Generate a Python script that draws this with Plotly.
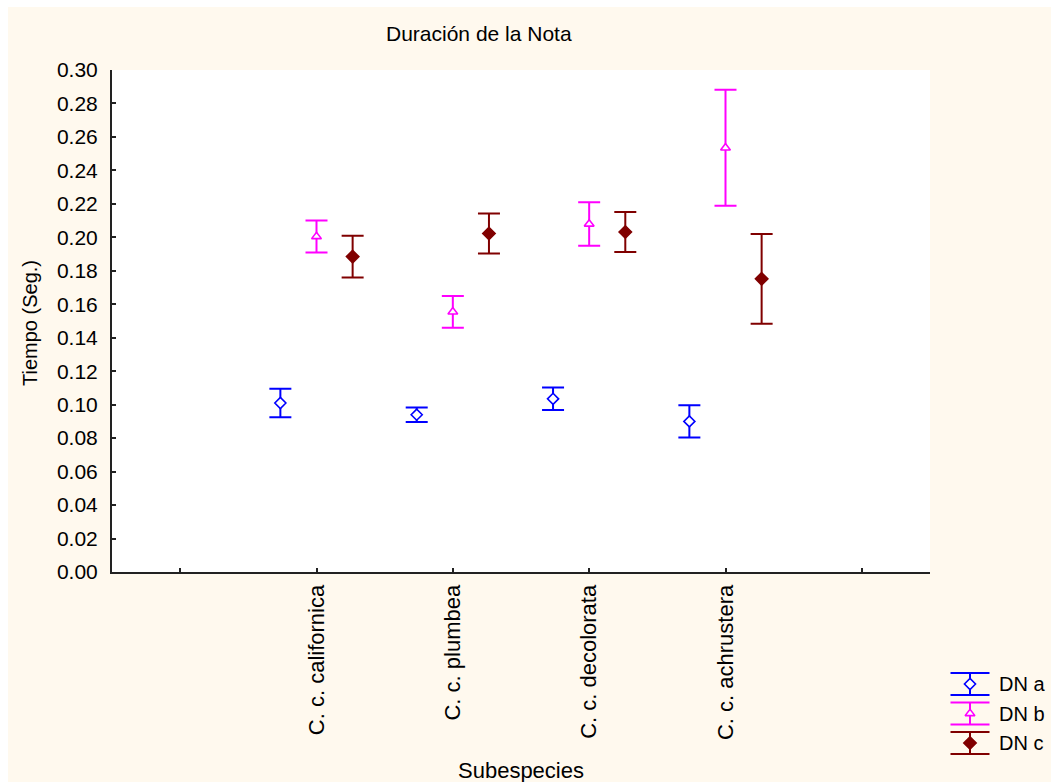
import numpy as np
import plotly.graph_objects as go

# Note duration per subspecies: mean and half-width of the interval (seconds)
subspecies = ["C. c. californica", "C. c. plumbea", "C. c. decolorata", "C. c. achrustera"]
series_names = ["DN a", "DN b", "DN c"]
dn_a_mean = [0.101, 0.094, 0.1035, 0.090]
dn_a_err = [0.0085, 0.0043, 0.0067, 0.0096]
dn_b_mean = [0.2005, 0.1555, 0.208, 0.2535]
dn_b_err = [0.0095, 0.0095, 0.013, 0.0347]
dn_c_mean = [0.1885, 0.2023, 0.2032, 0.1752]
dn_c_err = [0.0125, 0.012, 0.012, 0.0268]

y_ticks = [round(0.02 * i, 2) for i in range(16)]

W, H = 1051, 782
ML, MT = 112, 70
PW, PH = W - ML, H - MT

BG = "#FFF9EE"
FONT = "Liberation Sans, Arial, sans-serif"
colors = ["#0000FF", "#FF00FF", "#800000"]
symbols = ["diamond", "triangle-up", "diamond"]
fills = ["white", "white", "#800000"]
sizes = [8.5, 8.5, 9.5]
offsets = [-0.265, 0.0, 0.265]

means = [dn_a_mean, dn_b_mean, dn_c_mean]
errs = [dn_a_err, dn_b_err, dn_c_err]


def px_x(p):
    return (p - ML) / PW


def px_y(p):
    return (H - p) / PH


fig = go.Figure()
cat_pos = np.arange(1, len(subspecies) + 1)

for k in range(3):
    fig.add_trace(go.Scatter(
        x=cat_pos + offsets[k], y=means[k], mode="markers", name=series_names[k],
        showlegend=False,
        marker=dict(symbol=symbols[k], size=sizes[k], color=fills[k],
                    line=dict(color=colors[k], width=1.6)),
        error_y=dict(type="data", array=errs[k], symmetric=True,
                     color=colors[k], thickness=2, width=11),
        xaxis="x", yaxis="y",
    ))

# Key glyphs, drawn in their own small subplot
for k in range(3):
    fig.add_trace(go.Scatter(
        x=[0], y=[3 - k], mode="markers", showlegend=False, hoverinfo="skip",
        marker=dict(symbol=symbols[k], size=sizes[k], color=fills[k],
                    line=dict(color=colors[k], width=1.6)),
        error_y=dict(type="data", array=[0.373], symmetric=True,
                     color=colors[k], thickness=2, width=19.5),
        xaxis="x2", yaxis="y2",
    ))

annotations = [
    dict(text="Duración de la Nota", x=px_x(479), y=px_y(33), xref="paper", yref="paper",
         showarrow=False, xanchor="center", yanchor="middle",
         font=dict(family=FONT, size=21, color="black")),
    dict(text="Tiempo (Seg.)", x=px_x(30), y=px_y(323), xref="paper", yref="paper",
         showarrow=False, xanchor="center", yanchor="middle", textangle=-90,
         font=dict(family=FONT, size=20, color="black")),
    dict(text="Subespecies", x=px_x(521), y=px_y(770), xref="paper", yref="paper",
         showarrow=False, xanchor="center", yanchor="middle",
         font=dict(family=FONT, size=22, color="black")),
]
for k, nm in enumerate(series_names):
    annotations.append(dict(text=nm, x=px_x(997), y=px_y(684 + 29.5 * k),
                            xref="paper", yref="paper", showarrow=False,
                            xanchor="left", yanchor="middle",
                            font=dict(family=FONT, size=20, color="black")))

shapes = [
    # white plotting panel
    dict(type="rect", xref="x domain", yref="y domain", x0=0, x1=1, y0=0, y1=1,
         fillcolor="white", line=dict(width=0), layer="below"),
    # white page border strips at top and left
    dict(type="rect", xref="paper", yref="paper", x0=px_x(0), x1=1.0,
         y0=px_y(7), y1=px_y(0), fillcolor="white", line=dict(width=0), layer="below"),
    dict(type="rect", xref="paper", yref="paper", x0=px_x(0), x1=px_x(8),
         y0=0, y1=px_y(0), fillcolor="white", line=dict(width=0), layer="below"),
]

fig.update_layout(
    width=W, height=H,
    margin=dict(l=ML, r=0, t=MT, b=0, pad=0, autoexpand=False),
    paper_bgcolor=BG, plot_bgcolor=BG,
    showlegend=False,
    font=dict(family=FONT, size=20, color="black"),
    annotations=annotations,
    shapes=shapes,
    xaxis=dict(
        domain=[0, px_x(930)], range=[-0.5, 5.5],
        tickmode="array", tickvals=list(range(0, 6)),
        ticktext=[""] + subspecies + [""],
        tickangle=-90, ticks="inside", ticklen=4, tickwidth=2, tickcolor="#222",
        showline=True, linecolor="#222", linewidth=2, showgrid=False, zeroline=False,
        ticklabelstandoff=2,
        tickfont=dict(family=FONT, size=22, color="black"),
    ),
    yaxis=dict(
        domain=[px_y(572), 1], range=[0, 0.30],
        tickmode="array", tickvals=y_ticks, ticktext=[f"{v:.2f}" for v in y_ticks],
        ticks="inside", ticklen=4, tickwidth=2, tickcolor="#222",
        showline=True, linecolor="#222", linewidth=2, showgrid=False, zeroline=False,
        ticklabelstandoff=8,
        tickfont=dict(family=FONT, size=21, color="black"),
    ),
    xaxis2=dict(domain=[px_x(945), px_x(995)], range=[-1, 1], visible=False,
                anchor="y2", fixedrange=True),
    yaxis2=dict(domain=[px_y(757.75), px_y(669.25)], range=[0.5, 3.5], visible=False,
                anchor="x2", fixedrange=True),
)

fig.write_html("out.html")
